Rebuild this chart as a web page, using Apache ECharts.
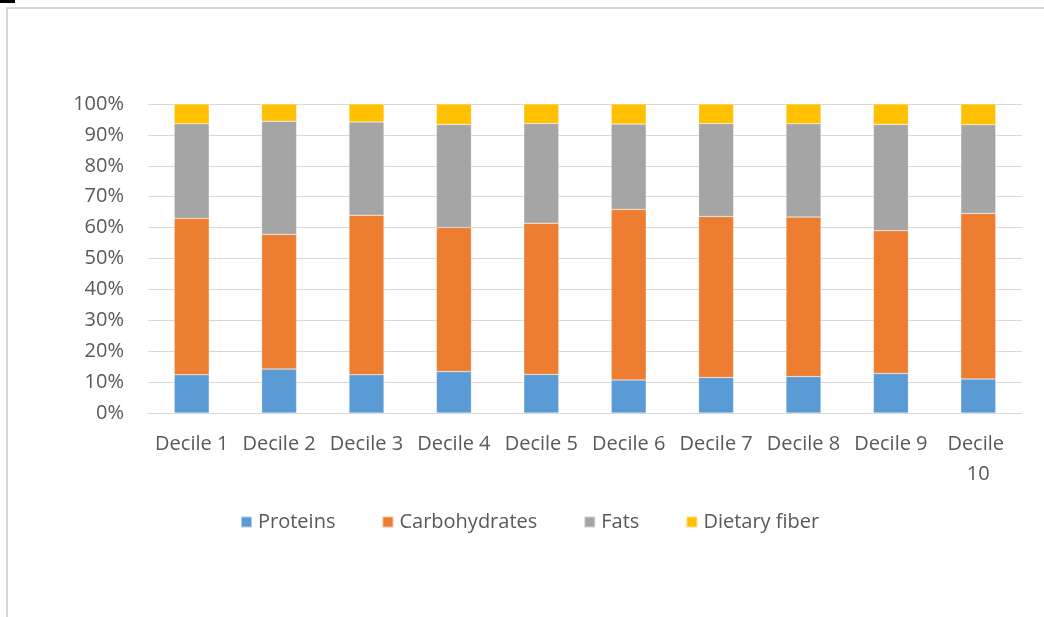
<!DOCTYPE html>
<html>
<head>
<meta charset="utf-8">
<script src="https://cdn.jsdelivr.net/npm/echarts@6/dist/echarts.min.js"></script>
<style>
  html, body { margin: 0; padding: 0; background: #fff; }
  #frame { position: absolute; left: 6px; top: 7px; width: 1040px; height: 612px;
           border-left: 2px solid #d9d9d9; border-top: 2px solid #d9d9d9; }
  #mark { position: absolute; left: 0; top: 0; width: 15px; height: 3px; background: #000; }
  #chart { position: absolute; left: 0; top: 0; width: 1044px; height: 617px; }
</style>
</head>
<body>
<div id="frame"></div>
<div id="mark"></div>
<div id="chart"></div>
<script>
// Share of energy intake by macronutrient, per income decile (percent)
const categories = ['Decile 1', 'Decile 2', 'Decile 3', 'Decile 4', 'Decile 5',
                    'Decile 6', 'Decile 7', 'Decile 8', 'Decile 9', 'Decile 10'];
const proteins      = [12.4, 14.2, 12.4, 13.4, 12.5, 10.7, 11.5, 11.8, 12.8, 11.0];
const carbohydrates = [50.6, 43.6, 51.6, 46.6, 48.9, 55.2, 52.1, 51.6, 46.2, 53.6];
const fats          = [30.6, 36.6, 30.2, 33.4, 32.3, 27.6, 30.1, 30.2, 34.4, 28.7];
const dietaryFiber  = [6.4, 5.6, 5.8, 6.6, 6.3, 6.5, 6.3, 6.4, 6.6, 6.7];
const yTicks = [0, 10, 20, 30, 40, 50, 60, 70, 80, 90, 100];

const FONT = '"Open Sans", "Noto Sans", sans-serif';
const TEXT = '#595959';

const seriesDefs = [
  { name: 'Proteins', data: proteins, color: '#5B9BD5' },
  { name: 'Carbohydrates', data: carbohydrates, color: '#ED7D31' },
  { name: 'Fats', data: fats, color: '#A5A5A5' },
  { name: 'Dietary fiber', data: dietaryFiber, color: '#FFC000' }
];

const chart = echarts.init(document.getElementById('chart'), null, { renderer: 'canvas' });
chart.setOption({
  animation: false,
  backgroundColor: 'transparent',
  textStyle: { fontFamily: FONT },
  grid: { left: 148, right: 22, top: 104, bottom: 204 },
  legend: {
    left: 235,
    top: 507,
    itemWidth: 11,
    itemHeight: 11,
    itemGap: 46,
    icon: 'rect',
    textStyle: { color: TEXT, fontSize: 20, fontFamily: FONT, padding: [0, 0, 0, 1] },
    data: seriesDefs.map(s => s.name)
  },
  xAxis: {
    type: 'category',
    data: categories,
    axisLine: { show: true, lineStyle: { color: '#d9d9d9', width: 1 } },
    axisTick: { show: false },
    axisLabel: {
      color: TEXT, fontSize: 20, fontFamily: FONT, margin: 16,
      lineHeight: 30, width: 80, overflow: 'break', interval: 0
    }
  },
  yAxis: {
    type: 'value',
    min: yTicks[0],
    max: yTicks[yTicks.length - 1],
    interval: 10,
    axisLine: { show: false },
    axisTick: { show: false },
    splitLine: { lineStyle: { color: '#d9d9d9', width: 1 } },
    axisLabel: {
      color: TEXT, fontSize: 20, fontFamily: FONT, margin: 24,
      formatter: v => v + '%'
    }
  },
  series: seriesDefs.map(s => ({
    name: s.name,
    type: 'bar',
    stack: 'total',
    data: s.data,
    barWidth: '40%',
    itemStyle: { color: s.color, borderColor: 'rgba(255,255,255,0.5)', borderWidth: 0.5 }
  }))
});
</script>
</body>
</html>
